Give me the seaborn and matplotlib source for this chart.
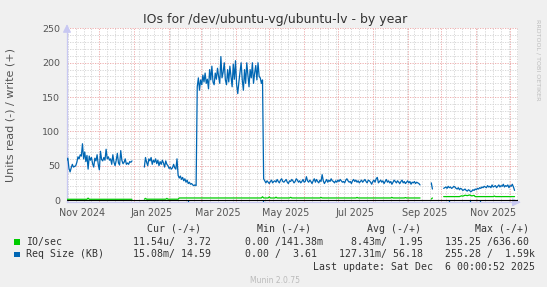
import numpy as np
import pandas as pd
import matplotlib
matplotlib.use("Agg")
import matplotlib.pyplot as plt
import matplotlib.dates as mdates
from matplotlib.ticker import MultipleLocator, NullFormatter
from matplotlib.patches import Rectangle
from matplotlib.transforms import blended_transform_factory
import seaborn as sns

# ------------------------------------------------------------------ data
ORIGIN = pd.Timestamp("2024-11-01")          # day 0

# Req Size (KB), write (+), daily values; *_start = day offset from ORIGIN
req_a_start = 0
req_a = [56, 58, 61, 46, 41, 47, 52, 48, 49, 50, 55, 63, 60, 66, 64, 82, 60, 70, 56, 65,
         45, 64, 58, 62, 53, 48, 61, 57, 66, 52, 44, 71, 59, 57, 62, 58, 74, 60, 63, 58,
         60, 52, 66, 55, 50, 58, 68, 54, 51, 72, 58, 53, 55, 60, 52, 54, 52, 56, 55, 57]

req_b_start = 70
req_b_mid = [48, 62, 55, 50, 60, 57, 62, 52, 58, 55, 60, 53, 58, 50, 56, 52, 58, 54, 48, 57,
             52, 50, 46, 48, 45, 47, 52, 47, 45, 60, 36, 32, 35, 30, 33, 28, 31, 26, 29, 24,
             26, 23, 24, 22, 21, 22, 21]
req_b_high = [165, 178, 160, 175, 168, 182, 172, 185, 170, 176, 162, 190, 175, 195, 172, 168,
              185, 176, 192, 180, 170, 209, 178, 186, 200, 175, 168, 190, 172, 195, 180, 165,
              198, 176, 203, 168, 155, 172, 186, 200, 175, 160, 190, 170, 200, 182, 165, 190,
              178, 200, 170, 185, 196, 175, 200, 180, 178, 170, 175]
req_b_low = [31, 28, 25, 28, 26, 24, 27, 29, 25, 27, 28, 26, 30, 27, 25, 29, 31, 27, 26, 28,
             30, 26, 24, 28, 27, 30, 28, 25, 27, 31, 29, 26, 28, 25, 27, 30, 26, 27, 34, 28,
             26, 29, 27, 24, 28, 31, 26, 30, 27, 25, 29, 27, 37, 28, 24, 27, 30, 26, 29, 27,
             31, 28, 27, 25, 28, 26, 29, 27, 30, 28, 26, 27, 25, 29, 31, 28, 26, 27, 24, 28,
             30, 27, 29, 26, 28, 25, 27, 29, 26, 28, 30, 27, 25, 29, 28, 26, 23, 27, 29, 26,
             31, 33, 25, 27, 29, 26, 28, 24, 27, 30, 26, 28, 25, 27, 23, 26, 29, 27, 25, 28,
             26, 24, 27, 29, 25, 27, 24, 26, 28, 25, 27, 23, 26, 25, 27, 24, 26, 25, 24, 22]

req_c_start = 325
req_c = [25, 16]

req_d_start = 336
req_d = [17, 18, 19, 17, 20, 18, 19, 17, 18, 20, 19, 17, 16, 18, 15, 17, 16, 14, 15, 16,
         14, 13, 15, 14, 12, 13, 15, 14, 16, 15, 17, 16, 18, 17, 19, 18, 20, 19, 18, 21,
         19, 20, 18, 22, 19, 20, 21, 18, 20, 22, 19, 21, 20, 23, 19, 21, 20, 22, 18, 21,
         20, 23, 19, 14]

# Req Size (KB), read (-): isolated dips
req_read_days = [109, 175, 341, 359, 368]
req_read_vals = [-3.0, -3.0, -3.0, -3.0, -3.0]

# IO/sec, write (+): (day, value) points per segment
io_a_days = [0, 19, 20, 21, 59]
io_a_vals = [1.1, 1.1, 2.8, 1.1, 1.1]
io_b_days = [70, 71, 72, 89, 90, 91, 100, 101, 174, 175, 176, 180, 181, 182, 186, 187, 188,
             199, 200, 201, 226, 227, 228, 258, 259, 260, 289, 290, 291, 301, 302, 303, 315]
io_b_vals = [1.2, 2.4, 1.2, 1.2, 2.4, 1.2, 1.2, 3.0, 3.0, 4.8, 3.0, 3.0, 4.6, 3.0, 3.0, 4.2, 3.0,
             3.0, 4.0, 3.0, 3.0, 3.8, 3.0, 3.0, 3.8, 3.0, 3.0, 3.8, 3.0, 3.0, 3.6, 3.0, 3.0]
io_c_days = [325, 326]
io_c_vals = [1.5, 3.0]
io_d_days = [336, 350, 352, 353, 355, 357, 359, 361, 363, 364, 380, 381, 382, 399]
io_d_vals = [5.0, 5.0, 6.2, 5.6, 7.0, 6.4, 7.4, 6.0, 6.8, 5.0, 5.0, 5.8, 5.0, 5.0]

xtick_labels = ["Nov 2024", "Jan 2025", "Mar 2025", "May 2025", "Jul 2025", "Sep 2025", "Nov 2025"]
xtick_dates = ["2024-11-16", "2025-01-16", "2025-03-16", "2025-05-16", "2025-07-16",
               "2025-09-16", "2025-11-16"]
yticks = [0, 50, 100, 150, 200, 250]

legend_header = ["Cur (-/+)", "Min (-/+)", "Avg (-/+)", "Max (-/+)"]
legend_names = ["IO/sec", "Req Size (KB)"]
legend_cur = ["11.54u/  3.72", "15.08m/ 14.59"]
legend_min = ["0.00 /141.38m", "0.00 /  3.61"]
legend_avg = ["8.43m/  1.95", "127.31m/ 56.18"]
legend_max = ["135.25 /636.60", "255.28 /  1.59k"]

GREEN = "#00CC00"
BLUE = "#0066B3"

# ------------------------------------------------------------------ frames
def daily(start, values, seg):
    d = ORIGIN + pd.to_timedelta(start + np.arange(len(values)), unit="D")
    return pd.DataFrame({"date": d, "value": values, "seg": seg})

def points(days, values, seg):
    d = ORIGIN + pd.to_timedelta(np.asarray(days), unit="D")
    return pd.DataFrame({"date": d, "value": values, "seg": seg})

req_df = pd.concat([
    daily(req_a_start, req_a, "a"),
    daily(req_b_start, req_b_mid + req_b_high + req_b_low, "b"),
    daily(req_c_start, req_c, "c"),
    daily(req_d_start, req_d, "d"),
], ignore_index=True)

io_df = pd.concat([
    points(io_a_days, io_a_vals, "a"),
    points(io_b_days, io_b_vals, "b"),
    points(io_c_days, io_c_vals, "c"),
    points(io_d_days, io_d_vals, "d"),
], ignore_index=True)

# ------------------------------------------------------------------ style
sns.set_theme(style="white")
plt.rcParams["font.family"] = ["DejaVu Sans"]

W, H = 547, 287
fig = plt.figure(figsize=(W / 100, H / 100), dpi=100)
fig.patch.set_facecolor("#F0F0F0")

def fx(x):
    return x / W

def fy(y):
    return 1 - y / H

left, right, top, bottom = 67, 518, 28.3, 202.3
ax = fig.add_axes([fx(left), fy(bottom), (right - left) / W, (bottom - top) / H])
ax.set_facecolor("white")

x0 = ORIGIN + pd.Timedelta(hours=30)
x1 = x0 + pd.Timedelta(days=400.8)

sns.lineplot(data=io_df, x="date", y="value", units="seg", estimator=None, sort=False,
             color=GREEN, linewidth=0.9, ax=ax, legend=False, zorder=3)
sns.lineplot(data=req_df, x="date", y="value", units="seg", estimator=None, sort=False,
             color=BLUE, linewidth=0.9, ax=ax, legend=False, zorder=4)
rd = ORIGIN + pd.to_timedelta(np.asarray(req_read_days), unit="D")
ax.vlines(rd, req_read_vals, 0, color=BLUE, linewidth=0.9, zorder=4)
ax.axhline(0, color="black", linewidth=0.8, zorder=5)

ax.set_xlim(x0, x1)
ax.set_ylim(-3.3, 250.2)
ax.set_xlabel("")
ax.set_ylabel("")

# grid
MAJ = "#EBA3A3"
MIN = "#D2D2D2"
ax.set_yticks(yticks)
ax.set_yticklabels([str(v) for v in yticks])
ax.yaxis.set_minor_locator(MultipleLocator(10))
ax.xaxis.set_major_locator(mdates.MonthLocator())
ax.xaxis.set_major_formatter(NullFormatter())
ax.xaxis.set_minor_locator(mdates.WeekdayLocator(byweekday=mdates.SU))
ax.xaxis.set_minor_formatter(NullFormatter())
ax.grid(which="minor", color=MIN, linestyle=(0, (1.5, 1.5)), linewidth=0.6)
ax.grid(which="major", color=MAJ, linestyle=(0, (1.5, 1.5)), linewidth=0.6)
ax.set_axisbelow(True)

ax.tick_params(which="major", direction="out", length=2.2, width=0.6, color=MAJ,
               labelsize=6.8, labelcolor="#555555", pad=2.8)
ax.tick_params(which="minor", direction="out", length=2.0, width=0.6, color=MIN)

AXC = "#C8C8F2"
for s in ["top", "right"]:
    ax.spines[s].set_visible(False)
for s in ["left", "bottom"]:
    ax.spines[s].set_color(AXC)
    ax.spines[s].set_linewidth(0.9)
ax.annotate("", xy=(0, 1.04), xytext=(0, 0.99), xycoords="axes fraction",
            arrowprops=dict(arrowstyle="-|>,head_length=0.4,head_width=0.2", color=AXC, lw=0.9),
            annotation_clip=False)
ax.annotate("", xy=(1.012, 0), xytext=(0.995, 0), xycoords="axes fraction",
            arrowprops=dict(arrowstyle="-|>,head_length=0.4,head_width=0.2", color=AXC, lw=0.9),
            annotation_clip=False)

# x labels centered mid-month
trans = blended_transform_factory(ax.transData, fig.transFigure)
for lab, d in zip(xtick_labels, xtick_dates):
    ax.text(mdates.date2num(pd.Timestamp(d)), fy(213.3), lab, transform=trans,
            ha="center", va="center", fontsize=6.9, color="#555555")

# titles
fig.text(fx(275.5), fy(19.5), "IOs for /dev/ubuntu-vg/ubuntu-lv - by year",
         ha="center", va="center", fontsize=9, color="#333333")
fig.text(fx(10.8), fy(115), "Units read (-) / write (+)", rotation=90,
         ha="center", va="center", fontsize=8, color="#555555")
fig.text(fx(537.5), fy(60), "RRDTOOL / TOBI OETIKER", rotation=270,
         ha="center", va="center", fontsize=4.6, color="#BDBDBD")

# legend block
MONO = dict(family="DejaVu Sans Mono", fontsize=7.1, color="#333333", va="center", ha="left")
for txt, x in zip(legend_header, [147.4, 257.2, 366.7, 475.4]):
    fig.text(fx(x), fy(228.8), txt, **MONO)
rows_y = [241.8, 254.4]
cols = [legend_names, legend_cur, legend_min, legend_avg, legend_max]
col_x = [[26.3, 26.3], [132.6, 132.6], [244.6, 244.6], [350.9, 338.6], [445.0, 445.0]]
for ci, col in enumerate(cols):
    for ri, txt in enumerate(col):
        fig.text(fx(col_x[ci][ri]), fy(rows_y[ri]), txt, **MONO)
for color, yc in zip([GREEN, BLUE], rows_y):
    fig.patches.append(Rectangle((fx(14), fy(yc + 2.7)), 5.5 / W, 5.5 / H,
                                 transform=fig.transFigure, facecolor=color, edgecolor="none"))
fig.text(fx(313.3), fy(266.7), "Last update: Sat Dec  6 00:00:52 2025", **MONO)
fig.text(fx(274.5), fy(280.4), "Munin 2.0.75", ha="center", va="center",
         fontsize=5.5, color="#BBBBBB")

fig.savefig("out.png", dpi=100, facecolor=fig.get_facecolor())
